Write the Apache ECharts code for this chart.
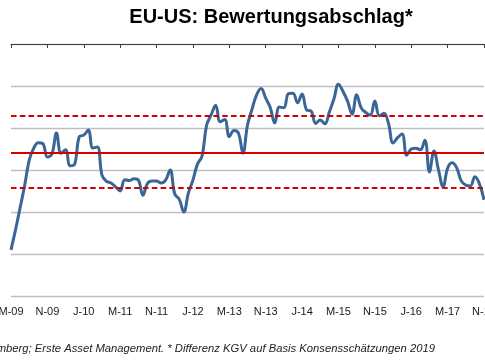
<!DOCTYPE html>
<html><head><meta charset="utf-8">
<script src="https://cdn.jsdelivr.net/npm/echarts@6/dist/echarts.min.js"></script>
<style>html,body{margin:0;padding:0;background:#fff}#c{width:485px;height:360px}</style>
</head><body><div id="c"></div>
<script>
// Monthly series starting March 2009
const startYear = 2009, startMonth = 3;
const monthLetters = ['J','F','M','A','M','J','J','A','S','O','N','D'];
const discount = [
 -4.90,-4.42,-3.90,-3.37,-2.77,-2.48,-2.35,-2.37,-2.69,-2.62,
 -2.12,-2.60,-2.52,-2.90,-2.86,-2.21,-2.17,-2.05,-2.48,-2.45,
 -3.12,-3.27,-3.31,-3.40,-3.50,-3.23,-3.25,-3.21,-3.24,-3.60,
 -3.32,-3.26,-3.26,-3.31,-3.24,-3.00,-3.57,-3.70,-4.00,-3.55,
 -3.24,-2.86,-2.67,-1.94,-1.69,-1.46,-1.85,-1.80,-2.21,-2.06,
 -2.12,-2.60,-1.93,-1.55,-1.21,-1.06,-1.29,-1.51,-1.88,-1.50,
 -1.52,-1.18,-1.17,-1.40,-1.19,-1.57,-1.60,-1.89,-1.81,-1.90,
 -1.62,-1.31,-0.96,-1.13,-1.36,-1.67,-1.21,-1.52,-1.63,-1.69,
 -1.36,-1.71,-1.65,-1.89,-2.36,-2.23,-2.14,-2.65,-2.50,-2.48,
 -2.52,-2.29,-3.05,-2.55,-3.00,-3.40,-2.96,-2.83,-2.95,-3.26,
 -3.36,-3.38,-3.16,-3.33,-3.71
];
const meanLevel = -2.59, upperBand = -1.71, lowerBand = -3.42;
const categories = discount.map((_, i) => {
  const t = startMonth - 1 + i;
  const y = startYear + Math.floor(t / 12);
  return monthLetters[t % 12] + '-' + String(y % 100).padStart(2, '0');
});
const titleText = 'EU-US: Bewertungsabschlag*';
const footnote = 'Quelle: Bloomberg; Erste Asset Management. * Differenz KGV auf Basis Konsensschätzungen 2019';
const FF = '"Liberation Sans", Arial, sans-serif';

const chart = echarts.init(document.getElementById('c'), null, {renderer: 'canvas'});
chart.setOption({
  animation: false,
  title: {text: titleText, left: 266, top: 2, textAlign: 'center',
    textStyle: {fontFamily: FF, fontWeight: 'bold', fontSize: 20, color: '#000'}},
  grid: {left: 11, right: 1, top: 44, bottom: 64, containLabel: false, outerBoundsMode: 'none'},
  xAxis: [
    {type: 'category', data: categories, boundaryGap: false, position: 'bottom',
      axisLine: {show: false}, axisTick: {show: false}, splitLine: {show: false},
      axisLabel: {interval: 7, fontSize: 11, color: '#1a1a1a', margin: 10, fontFamily: FF,
        showMinLabel: true, hideOverlap: false}},
    {type: 'category', data: categories, boundaryGap: false, position: 'top',
      axisLine: {show: true, lineStyle: {color: '#404040', width: 1}},
      axisTick: {show: true, inside: true, length: 4, interval: 7, lineStyle: {color: '#404040'}},
      axisLabel: {show: false}, splitLine: {show: false}}
  ],
  yAxis: {type: 'value', min: -6, max: 0, interval: 1,
    axisLabel: {show: false}, axisLine: {show: false}, axisTick: {show: false},
    splitLine: {show: true, lineStyle: {color: '#BFBFBF', width: 1.3}}},
  series: [{
    type: 'line', data: discount, xAxisIndex: 0, smooth: 0.4, symbol: 'none',
    lineStyle: {color: '#3A6597', width: 3},
    markLine: {silent: true, symbol: 'none', label: {show: false}, animation: false,
      data: [
        {yAxis: meanLevel, lineStyle: {color: '#D40000', width: 2, type: 'solid'}},
        {yAxis: upperBand, lineStyle: {color: '#D40000', width: 2, type: [5.5, 3.3]}},
        {yAxis: lowerBand, lineStyle: {color: '#D40000', width: 2, type: [5.5, 3.3]}}
      ]}
  }],
  graphic: [{type: 'text', right: 50, top: 343,
    style: {text: footnote, font: 'italic 11.25px ' + FF, fill: '#222'}}]
});
</script></body></html>
